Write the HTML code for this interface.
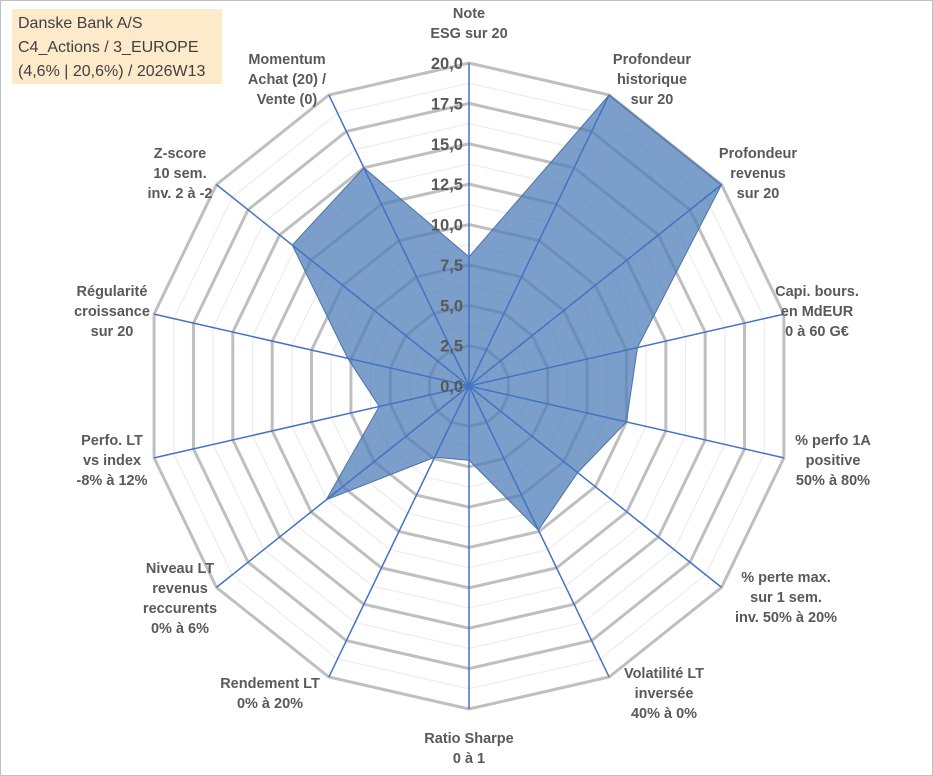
<!DOCTYPE html>
<html><head><meta charset="utf-8">
<style>
html,body{margin:0;padding:0;background:#fff;}
#wrap{position:relative;width:933px;height:776px;overflow:hidden;font-family:"Liberation Sans",Arial,sans-serif;}
#frame{position:absolute;left:0;top:0;width:931px;height:774px;border:1px solid #bfbfbf;}
#title{position:absolute;left:12px;top:9px;width:210px;height:75px;background:#fdeacb;color:#404040;font-size:16px;line-height:24px;padding-left:6px;box-sizing:border-box;padding-top:3px;}
</style></head><body>
<div id="wrap">
<div id="frame"></div>
<svg id="chart" width="933" height="776" style="position:absolute;left:0;top:0"></svg>
<div id="title">Danske Bank A/S<br>C4_Actions / 3_EUROPE<br>(4,6% | 20,6%) / 2026W13</div>
</div>
<script>
const categories=[["Note","ESG sur 20"],["Profondeur","historique","sur 20"],["Profondeur","revenus","sur 20"],["Capi. bours.","en MdEUR","0 à 60 G€"],["% perfo 1A","positive","50% à 80%"],["% perte max.","sur 1 sem.","inv. 50% à 20%"],["Volatilité LT","inversée","40% à 0%"],["Ratio Sharpe","0 à 1"],["Rendement LT","0% à 20%"],["Niveau LT","revenus","reccurents","0% à 6%"],["Perfo. LT","vs index","-8% à 12%"],["Régularité","croissance","sur 20"],["Z-score","10 sem.","inv. 2 à -2"],["Momentum","Achat (20) /","Vente (0)"]];
const values=[8,20,20,10.7,10,8.6,9.9,4.6,4.9,11.3,5.7,7.7,14,15];
const tickLabels=["0,0","2,5","5,0","7,5","10,0","12,5","15,0","17,5","20,0"];
const maxVal=20;
const cx=469,cy=386,R=323;
const labelAnchors=[[469,23],[652,79],[758,173],[817,311],[833,460],[786,597],[664,693],[469,748],[270,693],[180,598],[112,460],[112,311],[180,173],[287,79]];
const svg=document.getElementById('chart');
const NS='http://www.w3.org/2000/svg';
const n=categories.length;
function ang(i){return i*2*Math.PI/n;}
function pt(i,v){const r=v/maxVal*R;return [cx+r*Math.sin(ang(i)),cy-r*Math.cos(ang(i))];}
function mk(t,a){const e=document.createElementNS(NS,t);for(const k in a)e.setAttribute(k,a[k]);svg.appendChild(e);return e;}
for(let k=1;k<=16;k++){
  const v=k*1.25;const major=k%2===0;
  const p=[];for(let i=0;i<n;i++)p.push(pt(i,v).join(','));
  const e=mk('polygon',{points:p.join(' '),fill:'none',stroke:major?'#bfbfbf':'#ececec','stroke-width':major?3:1.2});
  
  
}
const sp=values.map((v,i)=>pt(i,v).join(',')).join(' ');
const area=mk('polygon',{points:sp,fill:'#4f7fb8','fill-opacity':0.75,stroke:'#4a73a8','stroke-width':1});


for(let i=0;i<n;i++){
  const [x,y]=pt(i,maxVal);
  const e=mk('line',{x1:cx,y1:cy,x2:x,y2:y,stroke:'#4472c4','stroke-width':1.5});
  
  
}
tickLabels.forEach((t,k)=>{
  const y=cy-(k*2.5)/maxVal*R;
  const e=mk('text',{x:cx-6,y:y+6,'text-anchor':'end','font-size':16.5,'font-weight':'bold',fill:'#595959'});
  e.textContent=t;
  
  
});
categories.forEach((lines,i)=>{
  const [lx,cyl]=labelAnchors[i];
  const lh=20;const h=lines.length*lh;
  const e=mk('text',{x:lx,'text-anchor':'middle','font-size':14.5,'font-weight':'bold',fill:'#595959'});
  
  
  lines.forEach((l,j)=>{
    const ts=document.createElementNS(NS,'tspan');
    ts.setAttribute('x',lx);ts.setAttribute('y',cyl-h/2+lh*j+15);
    ts.textContent=l;e.appendChild(ts);
  });
});
</script>
</body></html>
